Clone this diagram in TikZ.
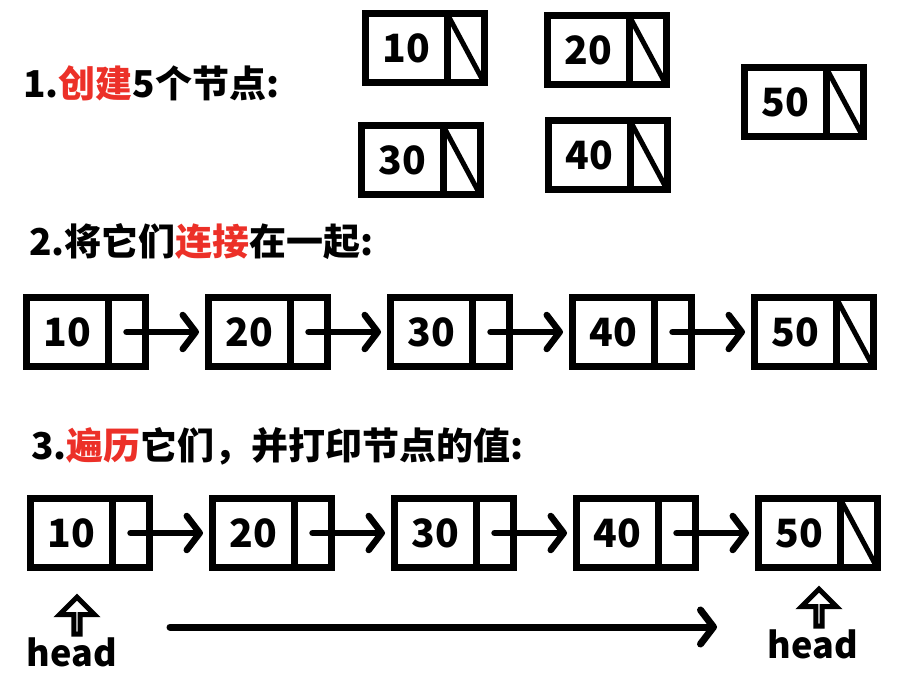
\documentclass[tikz,border=0pt]{standalone}
\usepackage{fontspec}
\setmainfont{Noto Sans CJK SC}
\usepackage{xcolor}
\usepackage{tikz}
\usetikzlibrary{arrows.meta,positioning,shapes.arrows}
\definecolor{keyred}{RGB}{236,48,40}
\tikzset{
  base/.style={font=\bfseries\fontsize{39}{44}\selectfont, text=black, outer sep=0pt, inner sep=0pt},
  valcell/.style={base, rectangle, draw=black, line width=7pt, minimum width=82pt, minimum height=69pt},
  ptrcell/.style={base, rectangle, draw=black, line width=7pt, minimum width=37pt, minimum height=69pt},
  nilcell/.style={ptrcell, path picture={\draw[line width=5pt] (path picture bounding box.north west) -- (path picture bounding box.south east);}},
  link/.style={line width=6.5pt, line cap=round, -{Straight Barb[length=13pt,width=34pt,line join=round,line cap=round]}, shorten >=9pt},
  step_title/.style={font=\bfseries\fontsize{37}{44}\selectfont, anchor=west, inner sep=0pt},
  head_text/.style={font=\bfseries\fontsize{36}{42}\selectfont, inner sep=0pt},
  head_arrow/.style={single arrow, shape border rotate=90, draw=black, fill=white, line width=5pt, minimum width=35pt, minimum height=37pt, single arrow head extend=11pt, single arrow head indent=0pt, inner sep=0pt, outer sep=0pt}
}

\begin{document}
\begin{tikzpicture}[x=1pt, y=-1pt]
  \useasboundingbox (0,0) rectangle (900,681);

  % Titles
  \node[step_title] (t1) at (23,83) {1.\textcolor{keyred}{创建}5个节点:};
  \node[step_title] (t2) at (29,242) {2.将它们\textcolor{keyred}{连接}在一起:};
  \node[step_title] (t3) at (31,446) {3.\textcolor{keyred}{遍历}它们，并打印节点的值:};

  % Step 1: loose nodes
  \node[valcell] (n10) at (406,48) {10};   \node[nilcell, right=0pt of n10] (n10p) {};
  \node[valcell] (n20) at (588,50) {20};   \node[nilcell, right=0pt of n20] (n20p) {};
  \node[valcell] (n30) at (402,160) {30};  \node[nilcell, right=0pt of n30] (n30p) {};
  \node[valcell] (n40) at (589,155) {40};  \node[nilcell, right=0pt of n40] (n40p) {};
  \node[valcell] (n50) at (785,102) {50};  \node[nilcell, right=0pt of n50] (n50p) {};

  % Step 2: linked list
  \node[valcell] (a10) at (67,332) {10};           \node[ptrcell, right=0pt of a10] (a10p) {};
  \node[valcell, right=63pt of a10p] (a20) {20};   \node[ptrcell, right=0pt of a20] (a20p) {};
  \node[valcell, right=63pt of a20p] (a30) {30};   \node[ptrcell, right=0pt of a30] (a30p) {};
  \node[valcell, right=63pt of a30p] (a40) {40};   \node[ptrcell, right=0pt of a40] (a40p) {};
  \node[valcell, right=63pt of a40p] (a50) {50};   \node[nilcell, right=0pt of a50] (a50p) {};

  \draw[link] (a10p.center) -- (a20);
  \draw[link] (a20p.center) -- (a30);
  \draw[link] (a30p.center) -- (a40);
  \draw[link] (a40p.center) -- (a50);

  % Step 3: traversal
  \node[valcell] (b10) at (71,533) {10};           \node[ptrcell, right=0pt of b10] (b10p) {};
  \node[valcell, right=63pt of b10p] (b20) {20};   \node[ptrcell, right=0pt of b20] (b20p) {};
  \node[valcell, right=63pt of b20p] (b30) {30};   \node[ptrcell, right=0pt of b30] (b30p) {};
  \node[valcell, right=63pt of b30p] (b40) {40};   \node[ptrcell, right=0pt of b40] (b40p) {};
  \node[valcell, right=63pt of b40p] (b50) {50};   \node[nilcell, right=0pt of b50] (b50p) {};

  \draw[link] (b10p.center) -- (b20);
  \draw[link] (b20p.center) -- (b30);
  \draw[link] (b30p.center) -- (b40);
  \draw[link] (b40p.center) -- (b50);

  % head markers
  \node[head_text] (head1) at (72,652) {head};
  \node[head_arrow, above=3pt of head1, xshift=5pt] (up1) {};
  \node[head_text] (head2) at (813,644) {head};
  \node[head_arrow, above=3pt of head2, xshift=6pt] (up2) {};

  \coordinate (walk_start) at (170,627);
  \coordinate (walk_end) at (717,627);
  \draw[link, line width=7pt, shorten >=0pt] (walk_start) -- (walk_end);
\end{tikzpicture}
\end{document}
